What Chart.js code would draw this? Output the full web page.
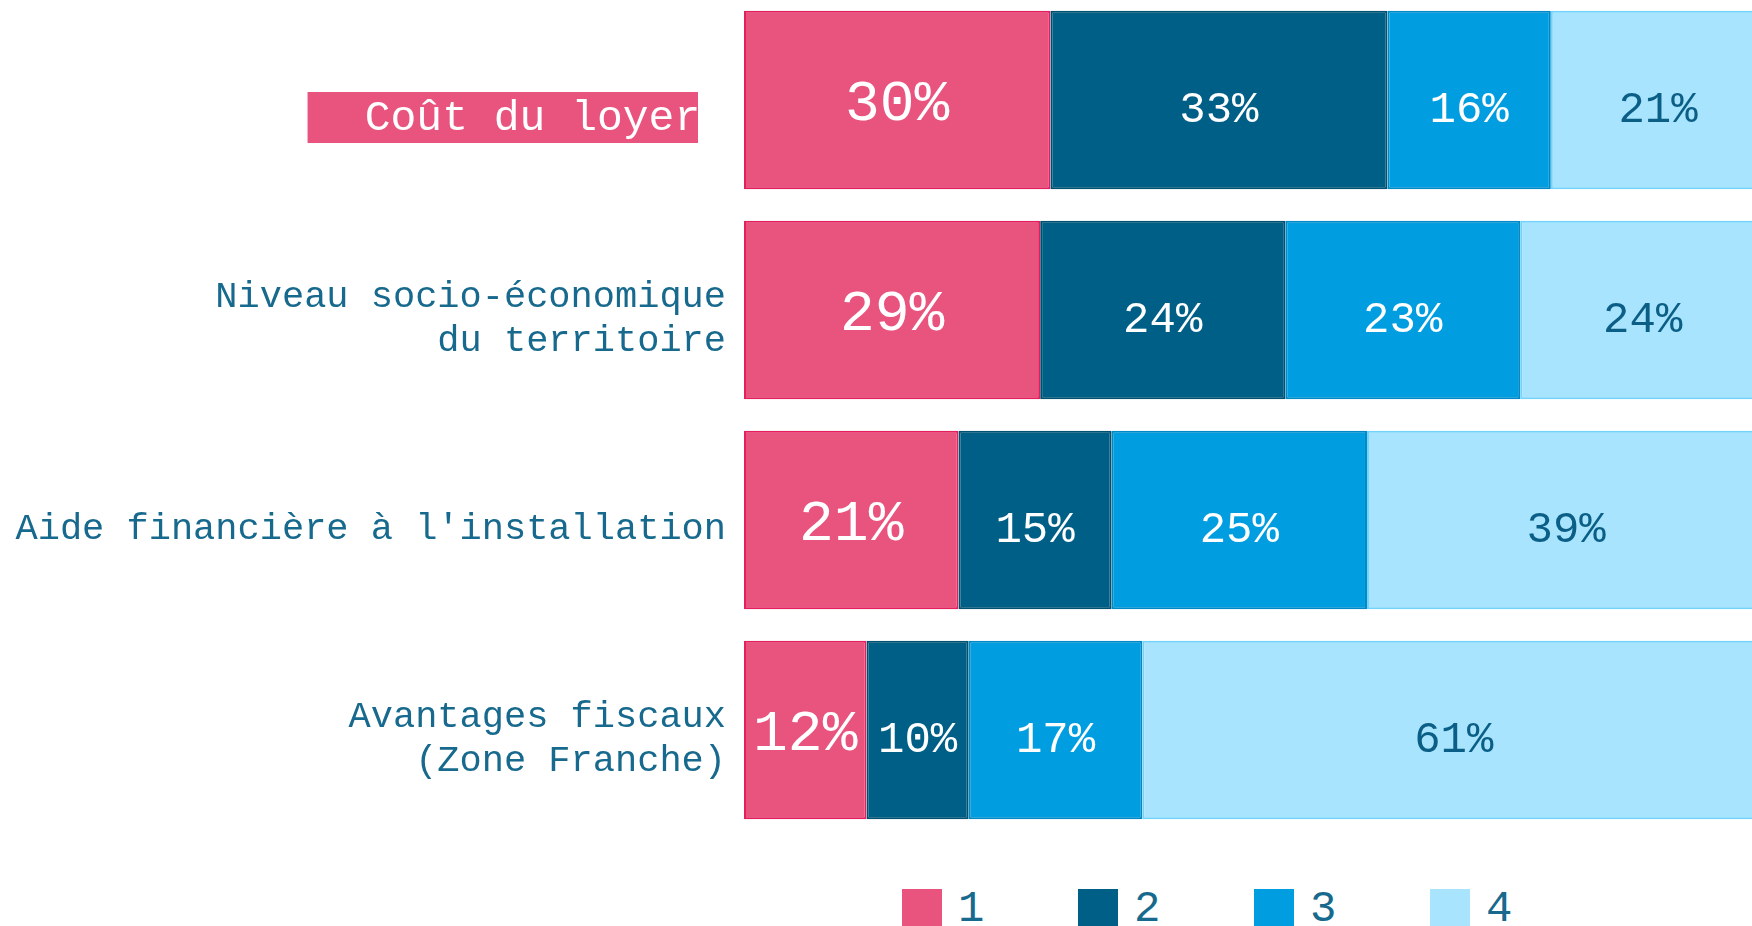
<!DOCTYPE html>
<html>
<head>
<meta charset="utf-8">
<script src="https://cdn.jsdelivr.net/npm/chart.js@4/dist/chart.umd.min.js"></script>
<style>
  html, body { margin: 0; padding: 0; background: #fff; overflow: hidden; }
  #page { width: 1752px; height: 926px; position: relative; overflow: hidden; }
  #wrap { width: 1752px; height: 840px; position: absolute; left: 0; top: -5px; }
  #legende { position: absolute; left: 902px; top: 889px; display: flex; }
  #legende .item { width: 176px; display: flex; align-items: center; }
  #legende .box { width: 40px; height: 40px; margin-right: 16px; }
  #legende .txt { font: 44px 'Liberation Mono', 'Courier New', monospace; color: #17698D; line-height: 40px; }
</style>
</head>
<body>
<div id="page">
  <div id="wrap"><canvas id="chartRangs"></canvas></div>
  <div id="legende"></div>
</div>
<script>
// données (en %)
const categories = [
    'Coût du loyer',
    ['Niveau socio-économique', 'du territoire'],
    "Aide financière à l'installation",
    ['Avantages fiscaux', '(Zone Franche)']
];
const seriesNames = ['1', '2', '3', '4'];
const rang1 = [30, 29, 21, 12];
const rang2 = [33, 24, 15, 10];
const rang3 = [16, 23, 25, 17];
const rang4 = [21, 24, 39, 61];

const couleurs = ['#E9547F', '#005F87', '#009EE0', '#A8E4FD'];
const bordures = ['#E3205E', '#00506F', '#0089C6', '#72D3FA'];
const couleursTexte = ['#ffffff', '#ffffff', '#ffffff', '#0B5E86'];
const police = "'Liberation Mono', 'Courier New', monospace";
const bleuTexte = '#17698D';

// étiquettes de pourcentage au centre de chaque segment
const etiquettesPlugin = {
    id: 'etiquettes',
    afterDatasetsDraw(chart) {
        const ctx = chart.ctx;
        ctx.save();
        ctx.textAlign = 'center';
        ctx.textBaseline = 'middle';
        chart.data.datasets.forEach(function (ds, di) {
            const meta = chart.getDatasetMeta(di);
            meta.data.forEach(function (bar, i) {
                const p = bar.getProps(['x', 'y', 'base'], true);
                ctx.font = (di === 0 ? 58 : 44) + 'px ' + police;
                ctx.fillStyle = couleursTexte[di];
                ctx.fillText(ds.data[i] + '%', (p.x + p.base) / 2, p.y + (di === 0 ? 5 : 10));
            });
        });
        ctx.restore();
    }
};

document.addEventListener('DOMContentLoaded', function () {
    const series = [rang1, rang2, rang3, rang4];
    const chart = new Chart(document.getElementById('chartRangs'), {
        type: 'bar',
        data: {
            labels: categories,
            datasets: series.map(function (vals, i) {
                return {
                    label: seriesNames[i],
                    data: vals,
                    backgroundColor: couleurs[i],
                    borderColor: bordures[i],
                    borderWidth: 2,
                    borderSkipped: false,
                    categoryPercentage: 1,
                    barPercentage: 0.85
                };
            })
        },
        options: {
            indexAxis: 'y',
            responsive: true,
            maintainAspectRatio: false,
            animation: false,
            layout: { padding: 0 },
            scales: {
                x: { stacked: true, min: 0, max: 98.7, display: false },
                y: {
                    stacked: true,
                    grid: { display: false, drawTicks: false },
                    border: { display: false },
                    afterFit: function (scale) {
                        scale.width = 744;
                        scale.paddingTop = 0;
                        scale.paddingBottom = 0;
                    },
                    ticks: {
                        padding: 18,
                        labelOffset: 9,
                        autoSkip: false,
                        color: function (c) { return c.index === 0 ? '#ffffff' : bleuTexte; },
                        font: function (c) {
                            return c.index === 0
                                ? { family: police, size: 43, lineHeight: '20px' }
                                : { family: police, size: 37, lineHeight: 1.2 };
                        },
                        // l'étiquette mise en avant est décalée vers le bas (ligne vide au-dessus)
                        callback: function (v, i) {
                            return i === 0 ? ['', categories[i] + ' '] : categories[i];
                        },
                        showLabelBackdrop: function (c) { return c.index === 0; },
                        backdropColor: '#E9547F',
                        backdropPadding: { left: 57, right: -28, top: -13, bottom: 24 }
                    }
                }
            },
            plugins: {
                tooltip: { enabled: false },
                legend: { display: false }
            }
        },
        plugins: [etiquettesPlugin]
    });

    // légende construite à partir des séries
    const leg = document.getElementById('legende');
    chart.data.datasets.forEach(function (ds) {
        const item = document.createElement('div');
        item.className = 'item';
        const box = document.createElement('span');
        box.className = 'box';
        box.style.background = ds.backgroundColor;
        const txt = document.createElement('span');
        txt.className = 'txt';
        txt.textContent = ds.label;
        item.appendChild(box);
        item.appendChild(txt);
        leg.appendChild(item);
    });
});
</script>
</body>
</html>
